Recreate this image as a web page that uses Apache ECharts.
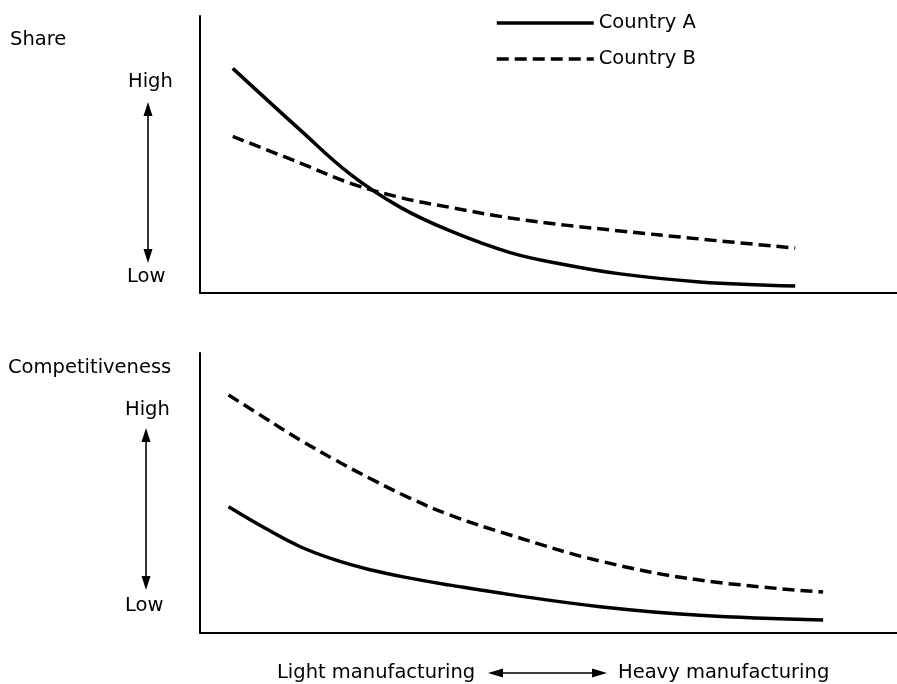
<!DOCTYPE html>
<html>
<head>
<meta charset="utf-8">
<script src="https://cdn.jsdelivr.net/npm/echarts@6.0.0/dist/echarts.min.js"></script>
<style>
	html, body { margin: 0; padding: 0; background: #fff; }
	#chart { width: 897px; height: 684px; }
</style>
</head>
<body>
<div id="chart"></div>
<script>
	// position along light -> heavy manufacturing (0-100), readings
	var shareX = [4.7, 14.4, 21.5, 28.7, 35.9, 44.5, 52.4, 60.3, 71.7, 85.4];
	var shareA = [81.1, 58.8, 43.0, 31.0, 22.4, 14.6, 10.2, 6.9, 4.0, 2.5];
	var shareB = [56.5, 46.9, 39.7, 34.5, 30.9, 27.1, 24.5, 22.4, 19.5, 16.2];

	var compX = [4.1, 9.3, 14.4, 19.4, 24.4, 30.1, 35.9, 44.5, 57.4, 71.7, 89.4];
	var compA = [45.1, 37.5, 30.8, 26.1, 22.6, 19.6, 17.1, 13.7, 9.4, 6.3, 4.6];
	var compB = [85.0, 76.8, 68.9, 61.8, 55.2, 48.2, 42.1, 35.0, 25.7, 18.9, 14.6];

	var seriesNames = ["Country A", "Country B"];
	var panelTitles = ["Share", "Competitiveness"];
	var scaleLabels = ["High", "Low"];
	var xEnds = ["Light manufacturing", "Heavy manufacturing"];

	var ink = "#000";
	var font = "19.5px 'DejaVu Sans'";

	function pairs(xs, ys){
		var out = [];
		for(var i = 0; i < xs.length; i++){
			out.push([xs[i], ys[i]]);
		}
		return out;
	}

	function curve(name, idx, data, dashed){
		return {
			name: name,
			type: "line",
			xAxisIndex: idx,
			yAxisIndex: idx,
			data: data,
			smooth: 0.4,
			symbol: "none",
			silent: true,
			lineStyle: { color: ink, width: 3.5, type: dashed ? [12, 6] : "solid" },
			itemStyle: { color: ink }
		};
	}

	function plainAxis(idx){
		return {
			gridIndex: idx, type: "value", min: 0, max: 100,
			axisLine: { show: true, lineStyle: { color: ink, width: 2 } },
			axisTick: { show: false }, axisLabel: { show: false }, splitLine: { show: false }
		};
	}

	//竖向箭头 High <-> Low
	function vArrow(x, y1, y2){
		return [
			{ type: "line", shape: { x1: x, y1: y1 + 8, x2: x, y2: y2 - 8 }, style: { stroke: ink, lineWidth: 1.6 } },
			{ type: "polygon", shape: { points: [[x, y1], [x - 4.5, y1 + 14], [x + 4.5, y1 + 14]] }, style: { fill: ink } },
			{ type: "polygon", shape: { points: [[x, y2], [x - 4.5, y2 - 14], [x + 4.5, y2 - 14]] }, style: { fill: ink } }
		];
	}
	function txt(s, x, y){
		return { type: "text", x: x, y: y, style: { text: s, font: font, fill: ink, textVerticalAlign: "middle" } };
	}

	var graphics = [
		txt(panelTitles[0], 10, 40),
		txt(scaleLabels[0], 128, 82),
		txt(scaleLabels[1], 127, 277),
		txt(panelTitles[1], 8, 368),
		txt(scaleLabels[0], 125, 410),
		txt(scaleLabels[1], 125, 606),
		txt(xEnds[0], 277, 673),
		txt(xEnds[1], 618, 673),
		// 横向箭头
		{ type: "line", shape: { x1: 496, y1: 673, x2: 599, y2: 673 }, style: { stroke: ink, lineWidth: 1.6 } },
		{ type: "polygon", shape: { points: [[488, 673], [503, 668.5], [503, 677.5]] }, style: { fill: ink } },
		{ type: "polygon", shape: { points: [[607, 673], [592, 668.5], [592, 677.5]] }, style: { fill: ink } }
	].concat(vArrow(148, 102, 263)).concat(vArrow(146, 428, 590));

	var myChart = echarts.init(document.getElementById("chart"));
	myChart.setOption({
		backgroundColor: "#fff",
		animation: false,
		legend: {
			data: seriesNames,
			orient: "vertical",
			left: 490, top: 8,
			itemWidth: 97, itemHeight: 14, itemGap: 16,
			itemStyle: { opacity: 0 },
			lineStyle: { width: 3.5 },
			textStyle: { color: ink, fontSize: 19.5, fontFamily: "DejaVu Sans" },
			selectedMode: false
		},
		grid: [
			{ left: 200, top: 16, width: 697, height: 277 },
			{ left: 200, top: 353, width: 697, height: 280 }
		],
		xAxis: [plainAxis(0), plainAxis(1)],
		yAxis: [plainAxis(0), plainAxis(1)],
		series: [
			curve(seriesNames[0], 0, pairs(shareX, shareA), false),
			curve(seriesNames[1], 0, pairs(shareX, shareB), true),
			curve(seriesNames[0], 1, pairs(compX, compA), false),
			curve(seriesNames[1], 1, pairs(compX, compB), true)
		],
		graphic: graphics
	});
</script>
</body>
</html>
